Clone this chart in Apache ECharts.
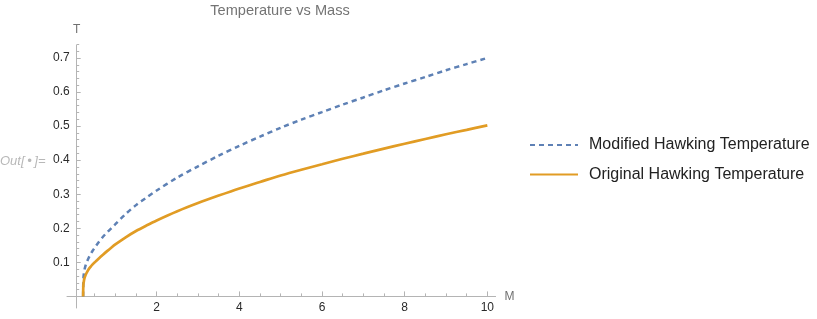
<!DOCTYPE html>
<html>
<head>
<meta charset="utf-8">
<script src="https://cdn.jsdelivr.net/npm/echarts@6/dist/echarts.min.js"></script>
<style>html,body{margin:0;padding:0;background:#fff;overflow:hidden;}#c{width:817px;height:319px;}</style>
</head>
<body>
<div id="c"></div>
<script>
// Data
var massValues = [0.22, 0.222, 0.225, 0.23, 0.24, 0.25, 0.275, 0.3, 0.35, 0.4, 0.45, 0.5, 0.6, 0.7, 0.8, 0.9, 1.0, 1.25, 1.5, 1.75, 2.0, 2.5, 3.0, 3.5, 4.0, 4.5, 5.0, 5.5, 6.0, 6.5, 7.0, 7.5, 8.0, 8.5, 9.0, 9.5, 10.0];
var originalT = [0, 0.02, 0.03, 0.038, 0.046, 0.052, 0.061, 0.068, 0.079, 0.087, 0.094, 0.1, 0.1115, 0.1225, 0.133, 0.143, 0.1525, 0.1735, 0.192, 0.208, 0.223, 0.25, 0.274, 0.296, 0.317, 0.336, 0.355, 0.372, 0.388, 0.404, 0.419, 0.434, 0.448, 0.462, 0.476, 0.489, 0.502];
var modifiedT = [0, 0.032, 0.046, 0.058, 0.069, 0.077, 0.089, 0.098, 0.112, 0.124, 0.134, 0.143, 0.16, 0.175, 0.188, 0.2, 0.212, 0.242, 0.268, 0.29, 0.311, 0.349, 0.382, 0.413, 0.442, 0.469, 0.495, 0.519, 0.541, 0.563, 0.584, 0.605, 0.625, 0.644, 0.664, 0.682, 0.70];
var yMajorTicks = [0.1, 0.2, 0.3, 0.4, 0.5, 0.6, 0.7];
var seriesNames = ['Modified Hawking Temperature', 'Original Hawking Temperature'];

function pairs(xs, ys) { return xs.map(function (x, i) { return [x, ys[i]]; }); }

var FONT = '"Liberation Sans", Arial, sans-serif';
var AXIS_COLOR = '#b4b4b4';
var LABEL_COLOR = '#2a2a2a';
var X_MIN = -0.17, X_MAX = 10.2, Y_MIN = -0.034, Y_MAX = 0.738;

// pixel frame of the main plot
var W = 817, H = 319;
var G_LEFT = 67, G_RIGHT_PX = 495.6, G_TOP = 45, G_BOTTOM_PX = 308;
var pxPerX = (G_RIGHT_PX - G_LEFT) / (X_MAX - X_MIN);
var pxPerY = (G_BOTTOM_PX - G_TOP) / (Y_MAX - Y_MIN);
function xPx(v) { return G_LEFT + (v - X_MIN) * pxPerX; }
function yPx(v) { return G_BOTTOM_PX - (v - Y_MIN) * pxPerY; }
var Y_AXIS_AT = 76.7; // y axis line position (Mathematica axes origin)

function mkGrid(l, r, t, b) {
  return { left: l, right: W - r, top: t, bottom: H - b, containLabel: false, outerBoundsMode: 'none' };
}
var grids = [
  mkGrid(G_LEFT, G_RIGHT_PX, G_TOP, G_BOTTOM_PX),      // main plot
  mkGrid(xPx(2), xPx(10), G_TOP, yPx(0)),              // x major ticks + labels
  mkGrid(xPx(0.5), xPx(10), G_TOP, yPx(0)),            // x minor ticks
  mkGrid(Y_AXIS_AT, G_RIGHT_PX, yPx(0.7), yPx(0.1)),   // y major ticks
  mkGrid(Y_AXIS_AT, G_RIGHT_PX, yPx(0.74), yPx(0.02))  // y minor ticks
];

function hiddenAxis(idx) {
  return { type: 'value', gridIndex: idx, show: false, min: 0, max: 1 };
}
function tickX(idx, min, max, interval, len, labels) {
  return {
    type: 'value', gridIndex: idx, min: min, max: max, interval: interval, position: 'bottom',
    axisLine: { show: false, onZero: false },
    axisTick: { show: true, inside: true, length: len, lineStyle: { color: AXIS_COLOR, width: 1 } },
    axisLabel: labels ? { show: true, margin: 5, color: LABEL_COLOR, fontSize: 12, fontFamily: FONT } : { show: false },
    splitLine: { show: false }
  };
}
function tickY(idx, min, max, interval, len) {
  return {
    type: 'value', gridIndex: idx, min: min, max: max, interval: interval, position: 'left',
    axisLine: { show: false, onZero: false },
    axisTick: { show: true, inside: true, length: len, lineStyle: { color: AXIS_COLOR, width: 1 } },
    axisLabel: { show: false }, splitLine: { show: false }
  };
}

var chart = echarts.init(document.getElementById('c'), null, { renderer: 'canvas' });
chart.setOption({
  animation: false,
  backgroundColor: '#fff',
  textStyle: { fontFamily: FONT },
  title: {
    text: 'Temperature vs Mass', left: 280, top: 3, textAlign: 'center', padding: 0,
    textStyle: { fontSize: 14.6, fontWeight: 'normal', color: '#747474', fontFamily: FONT }
  },
  graphic: [{
    type: 'text', left: 0, top: 155,
    style: { text: 'Out[\u2009\u2022\u2009]=', font: 'italic 13px ' + FONT, fill: '#b8b8b8' }
  }],
  legend: {
    orient: 'vertical', left: 529, top: 136, padding: 0, itemWidth: 48, itemHeight: 14, itemGap: 11.5,
    data: seriesNames,
    itemStyle: { opacity: 0 },
    textStyle: { fontSize: 16, color: '#222', fontFamily: FONT, lineHeight: 18, padding: [0, 0, 0, 6] }
  },
  grid: grids,
  xAxis: [{
    type: 'value', gridIndex: 0, min: X_MIN, max: X_MAX, position: 'bottom',
    name: 'M', nameLocation: 'end', nameGap: 9,
    nameTextStyle: { color: '#707070', fontSize: 12, fontFamily: FONT, verticalAlign: 'middle', padding: [14, 0, 0, 0] },
    axisLine: { show: true, onZero: true, lineStyle: { color: AXIS_COLOR, width: 1 } },
    axisTick: { show: false },
    axisLabel: { show: false },
    splitLine: { show: false }
  },
    tickX(1, 2, 10, 2, 5, true),
    tickX(2, 0.5, 10, 0.5, 3, false),
    hiddenAxis(3),
    hiddenAxis(4)
  ],
  yAxis: [{
    type: 'value', gridIndex: 0, min: Y_MIN, max: Y_MAX, position: 'left', offset: G_LEFT - Y_AXIS_AT,
    name: 'T', nameLocation: 'end', nameGap: 9,
    nameTextStyle: { color: '#707070', fontSize: 12, fontFamily: FONT, align: 'center' },
    axisLine: { show: true, onZero: false, lineStyle: { color: AXIS_COLOR, width: 1 } },
    axisTick: { show: false },
    axisLabel: { show: true, customValues: yMajorTicks, margin: 7, color: LABEL_COLOR, fontSize: 12, fontFamily: FONT },
    splitLine: { show: false }
  },
    hiddenAxis(1),
    hiddenAxis(2),
    tickY(3, 0.1, 0.7, 0.1, 4),
    tickY(4, 0.02, 0.74, 0.02, 2.5)
  ],
  series: [{
    name: seriesNames[0], type: 'line', xAxisIndex: 0, yAxisIndex: 0,
    data: pairs(massValues, modifiedT), showSymbol: false, symbol: 'none',
    smooth: 0.3,
    lineStyle: { color: '#5E81B5', width: 2.5, type: [5, 4] },
    itemStyle: { color: '#5E81B5' }
  }, {
    name: seriesNames[1], type: 'line', xAxisIndex: 0, yAxisIndex: 0,
    data: pairs(massValues, originalT), showSymbol: false, symbol: 'none',
    smooth: 0.3,
    lineStyle: { color: '#E19C24', width: 2.7, type: 'solid' },
    itemStyle: { color: '#E19C24' }
  }]
});
</script>
</body>
</html>
